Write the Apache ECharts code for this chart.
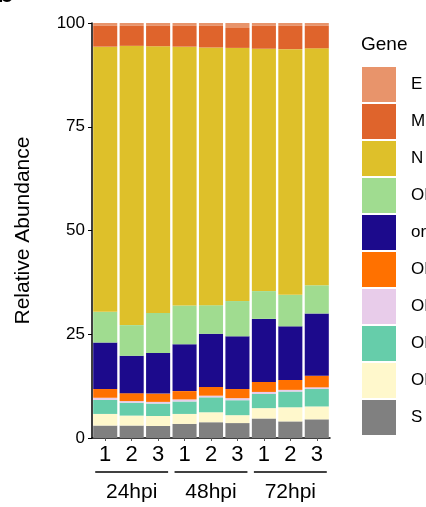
<!DOCTYPE html>
<html>
<head>
<meta charset="utf-8">
<script src="https://cdn.jsdelivr.net/npm/echarts@6/dist/echarts.min.js"></script>
<style>html,body{margin:0;padding:0;background:#fff;}#c{width:426px;height:507px;}</style>
</head>
<body>
<div id="c"></div>
<script>
// Data
const replicates = ["1","2","3","1","2","3","1","2","3"];
const groups = ["24hpi","48hpi","72hpi"];
const yTicks = [0,25,50,75,100];
const legendOrder = ["E","M","N","ORF10","orf1ab","ORF3a","ORF6","ORF7a","ORF8","S"];
// values per gene, one per bar (percent)
const S      = [3.0, 3.0, 2.9, 3.4, 3.8, 3.6, 4.7, 4.0, 4.5];
const ORF8   = [2.8, 2.4, 2.4, 2.4, 2.4, 1.9, 2.5, 3.4, 3.1];
const ORF7a  = [3.4, 3.1, 3.0, 3.0, 3.6, 3.6, 3.4, 3.8, 4.2];
const ORF6   = [0.5, 0.4, 0.4, 0.5, 0.4, 0.5, 0.5, 0.4, 0.4];
const ORF3a  = [2.1, 1.9, 2.0, 2.0, 2.1, 2.2, 2.4, 2.4, 2.8];
const orf1ab = [11.2, 9.0, 9.8, 11.3, 12.8, 12.7, 15.2, 12.9, 15.0];
const ORF10  = [7.4, 7.4, 9.6, 9.3, 6.9, 8.5, 6.7, 7.6, 6.8];
const N      = [63.9, 67.3, 64.3, 62.4, 62.1, 61.0, 58.4, 59.2, 57.1];
const M      = [5.0, 4.8, 4.9, 5.0, 5.2, 4.8, 5.5, 5.6, 5.4];
const E      = [0.7, 0.7, 0.7, 0.7, 0.7, 1.2, 0.7, 0.7, 0.7];

const colors = {
  E: "#E8946B", M: "#DF642C", N: "#DEC02A", ORF10: "#A0DC90", orf1ab: "#1C0A8C",
  ORF3a: "#FF7100", ORF6: "#E8CCEA", ORF7a: "#66CDAA", ORF8: "#FFF8CC", S: "#808080"
};
const stackOrder = [["S",S],["ORF8",ORF8],["ORF7a",ORF7a],["ORF6",ORF6],["ORF3a",ORF3a],
  ["orf1ab",orf1ab],["ORF10",ORF10],["N",N],["M",M],["E",E]];

const FONT = "Liberation Sans, Arial, sans-serif";
const chart = echarts.init(document.getElementById('c'), null, {renderer:'canvas'});

const series = stackOrder.map(([name, vals]) => ({
  name, type: 'bar', stack: 'total', data: vals, barCategoryGap: '9%',
  itemStyle: {color: colors[name]}, emphasis: {disabled: true}
}));

chart.setOption({
  animation: false,
  grid: {left: 92, right: 96, top: 23, bottom: 69, containLabel: false},
  xAxis: {
    type: 'category', data: replicates,
    axisLine: {lineStyle: {color: '#000', width: 1.5}},
    axisTick: {show: true, alignWithLabel: true, length: 3, lineStyle: {color: '#555'}},
    axisLabel: {color: '#000', fontSize: 22, fontFamily: FONT, margin: 6}
  },
  yAxis: {
    type: 'value', min: 0, max: 100, interval: 25,
    name: 'Relative Abundance', nameLocation: 'middle', nameGap: 58, nameRotate: 90,
    nameTextStyle: {color: '#000', fontSize: 21, fontFamily: FONT},
    axisLine: {show: true, lineStyle: {color: '#000', width: 1.5}},
    axisTick: {show: true, length: 4, lineStyle: {color: '#000'}},
    axisLabel: {color: '#000', fontSize: 17, fontFamily: FONT, margin: 7},
    splitLine: {show: false}
  },
  legend: {
    data: legendOrder, orient: 'vertical', left: 357, top: 62,
    itemWidth: 34, itemHeight: 35, itemGap: 2, icon: 'rect',
    textStyle: {color: '#000', fontSize: 17, fontFamily: FONT, padding: [0,0,0,10]},
    selectedMode: false
  },
  title: {
    text: 'Gene', left: 356, top: 30,
    textStyle: {color: '#000', fontSize: 19, fontWeight: 'normal', fontFamily: FONT}
  },
  series
});

// group labels and underline brackets positioned from the axis
function drawGroups() {
  const els = [];
  els.push({type: 'text', left: -4, top: -21, style: {text: 'b', fill: '#000', font: 'bold 30px ' + FONT}});
  const yBase = chart.convertToPixel({yAxisIndex: 0}, 0);
  groups.forEach((g, gi) => {
    const x0 = chart.convertToPixel({xAxisIndex: 0}, gi * 3);
    const x2 = chart.convertToPixel({xAxisIndex: 0}, gi * 3 + 2);
    const cx = (x0 + x2) / 2;
    const half = (x2 - x0) / 2 + 10;
    els.push({type: 'line', shape: {x1: cx - half, y1: yBase + 34, x2: cx + half, y2: yBase + 34},
      style: {stroke: '#000', lineWidth: 1.5}});
    els.push({type: 'text', x: cx, y: yBase + 54,
      style: {text: g, fill: '#000', font: '21px ' + FONT, textAlign: 'center', textVerticalAlign: 'middle'}});
  });
  chart.setOption({graphic: els});
}
drawGroups();
</script>
</body>
</html>
